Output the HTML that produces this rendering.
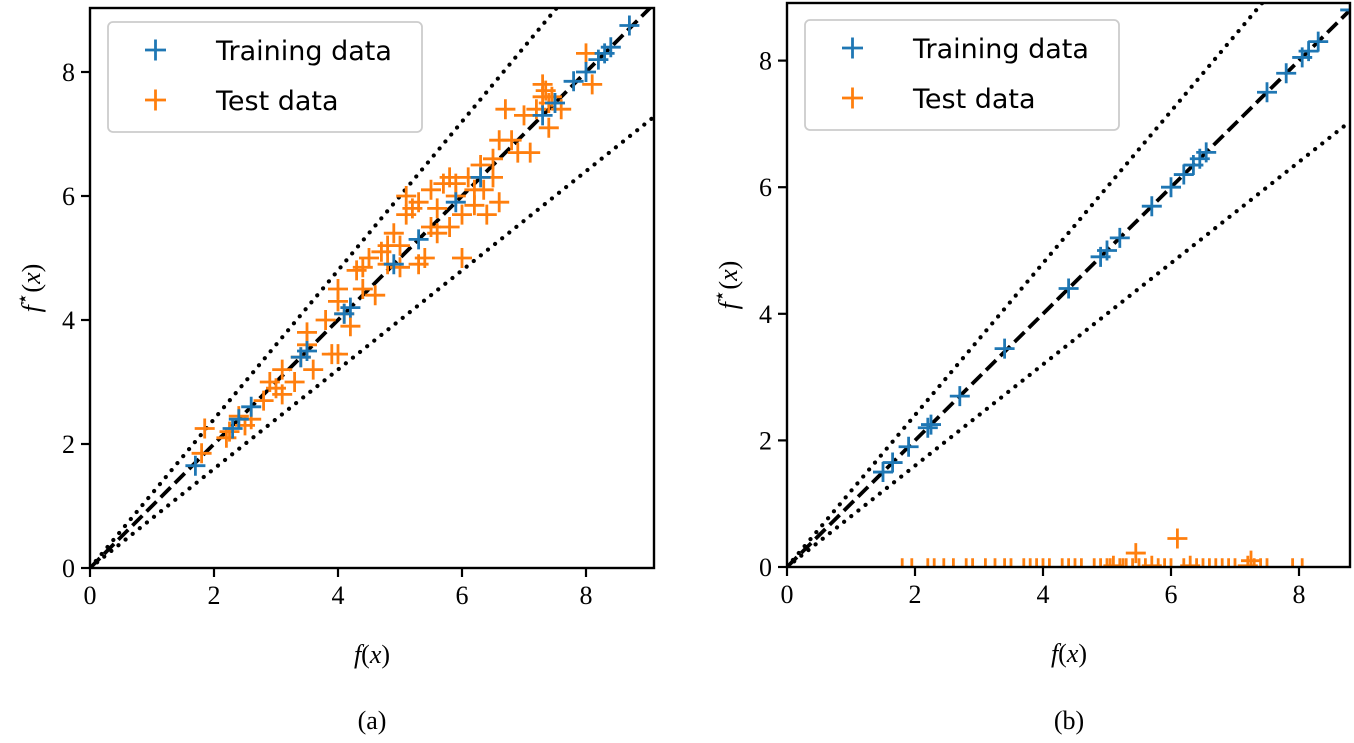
<!DOCTYPE html>
<html><head><meta charset="utf-8"><style>
body{margin:0;background:#fff}
svg{display:block}
.tk{font-family:"Liberation Serif",serif;font-size:26px}
.lg{font-family:"DejaVu Sans","Liberation Sans",sans-serif;font-size:27px}
</style></head><body>
<svg id="fig" width="1354" height="743" viewBox="0 0 1354 743">
<defs>
<clipPath id="ca"><rect x="90" y="8" width="564" height="560"/></clipPath>
<clipPath id="cb"><rect x="787" y="3" width="563" height="564"/></clipPath>
</defs>
</svg>
<script>
const trainA_x=[1.7,2.3,2.4,2.6,3.4,3.5,4.1,4.2,4.9,5.3,5.9,6.3,7.3,7.5,7.8,8.0,8.2,8.3,8.4,8.7];
const trainA_y=[1.65,2.25,2.4,2.6,3.4,3.5,4.1,4.2,4.9,5.3,5.9,6.3,7.3,7.5,7.85,8.0,8.2,8.3,8.4,8.75];
const testA_x=[1.85,1.8,2.2,2.25,2.4,2.5,2.6,2.8,2.9,3.0,3.1,3.1,3.3,3.4,3.5,3.6,3.5,3.9,4.0,3.8,4.0,4.1,4.0,4.2,4.3,4.4,4.6,4.5,4.7,4.8,4.8,4.9,5.0,5.1,5.0,5.2,5.1,5.3,5.3,5.4,5.5,5.6,5.7,5.6,5.8,5.9,6.0,6.0,6.1,6.2,6.3,6.35,6.4,6.5,6.6,6.6,6.7,6.8,6.9,7.0,7.1,7.2,7.3,7.3,7.35,7.4,7.45,7.4,7.6,8.0,8.1,6.2,5.9,5.5,4.4,6.5,5.8];
const testA_y=[2.25,1.85,2.1,2.2,2.45,2.3,2.4,2.7,3.0,2.9,3.2,2.8,3.0,3.4,3.6,3.2,3.8,3.45,3.45,4.0,4.3,4.1,4.5,3.9,4.8,4.85,4.4,5.0,5.1,5.2,4.9,5.4,5.2,5.7,4.85,5.8,6.0,5.9,4.9,5.0,6.1,5.8,6.2,5.4,6.3,6.0,5.0,5.7,6.3,5.85,6.5,6.1,5.7,6.6,6.9,5.9,7.4,6.9,6.7,7.3,6.7,7.4,7.8,7.6,7.7,7.5,7.6,7.1,7.4,8.3,7.8,6.1,6.2,5.5,4.5,6.3,5.5];
const trainB_x=[1.5,1.65,1.9,2.2,2.25,2.7,3.4,4.4,4.9,5.0,5.2,5.7,6.0,6.2,6.35,6.45,6.55,7.5,7.8,8.05,8.15,8.3,8.8];
const trainB_y=[1.5,1.65,1.9,2.2,2.25,2.7,3.45,4.4,4.9,5.0,5.2,5.7,6.0,6.2,6.35,6.45,6.55,7.5,7.8,8.05,8.15,8.3,8.8];
const testB_x=[1.8,1.95,2.2,2.3,2.45,2.6,2.8,2.9,3.1,3.25,3.4,3.5,3.7,3.8,3.9,4.0,4.1,4.3,4.4,4.5,4.6,4.8,4.9,5.0,5.05,5.1,5.2,5.25,5.3,5.4,5.45,5.5,5.6,5.7,5.8,5.9,6.0,6.1,6.2,6.3,6.4,6.5,6.6,6.7,6.8,6.9,7.0,7.2,7.25,7.3,7.4,7.5,7.9,8.05];
const testB_y=[-0.02,-0.02,-0.02,-0.02,-0.02,-0.02,-0.02,-0.02,-0.02,-0.02,-0.02,-0.02,-0.02,-0.02,-0.02,-0.02,-0.02,-0.02,-0.02,-0.02,-0.02,-0.02,-0.02,-0.02,-0.02,0.02,-0.02,-0.02,-0.02,-0.02,0.22,-0.02,-0.02,0.02,-0.02,-0.02,-0.02,0.45,-0.02,0.02,-0.02,-0.02,-0.02,-0.02,-0.02,-0.02,-0.02,0.02,0.1,-0.02,-0.02,-0.02,-0.02,-0.02];
const ticks=[0,2,4,6,8];
const upperSlope=1.2, lowerSlope=0.8;

const NS="http://www.w3.org/2000/svg";
const svg=document.getElementById('fig');
function mk(tag,at,parent){const e=document.createElementNS(NS,tag);for(const k in at)e.setAttribute(k,at[k]);(parent||svg).appendChild(e);return e;}

function panel(P){
  const sx=v=>P.x0+v*P.kx, sy=v=>P.y0-v*P.ky;
  const g=mk('g',{});
  
  
  const xmax=(P.right-P.x0)/P.kx;
  const pg=mk('g',{'clip-path':'url(#'+P.clip+')'},g);
  [[upperSlope,'upper-bound-line'],[lowerSlope,'lower-bound-line']].forEach(([s,n])=>{
    const l=mk('line',{x1:sx(0),y1:sy(0),x2:sx(xmax),y2:sy(xmax*s),stroke:'#000','stroke-width':4.2,'stroke-dasharray':'0.1 9','stroke-linecap':'round'},pg);
    
    
  });
  const d=mk('line',{x1:sx(0),y1:sy(0),x2:sx(xmax),y2:sy(xmax),stroke:'#000','stroke-width':3.8,'stroke-dasharray':'14 6'},pg);
  
  
  function plus(x,y,c,nm){
    const p=mk('path',{d:`M${sx(x)-10},${sy(y)}h20M${sx(x)},${sy(y)-10}v20`,stroke:c,'stroke-width':2.8,fill:'none'},pg);
    
    
  }
  P.testX.forEach((x,i)=>plus(x,P.testY[i],'#ff7f0e','test-point'));
  P.trainX.forEach((x,i)=>plus(x,P.trainY[i],'#1f77b4','training-point'));
  const f=mk('rect',{x:P.x0,y:P.top,width:P.right-P.x0,height:P.y0-P.top,fill:'none',stroke:'#000','stroke-width':2.4},g);
  
  
  ticks.forEach(t=>{
    mk('line',{x1:sx(t),x2:sx(t),y1:P.y0,y2:P.y0+9,stroke:'#000','stroke-width':2.2},g);
    const tx=mk('text',{x:sx(t),y:P.y0+36,'text-anchor':'middle',class:'tk'},g);tx.textContent=t;
    
    
    mk('line',{x1:P.x0-9,x2:P.x0,y1:sy(t),y2:sy(t),stroke:'#000','stroke-width':2.2},g);
    const ty=mk('text',{x:P.x0-15,y:sy(t)+9,'text-anchor':'end',class:'tk'},g);ty.textContent=t;
    
    
  });
  const xl=mk('text',{x:P.x0+282,y:P.y0+95,'text-anchor':'middle',class:'tk','font-size':'31'},g);
  xl.innerHTML='<tspan font-style="italic">f</tspan>(<tspan font-style="italic">x</tspan>)';
  
  
  const cy=(P.top+P.y0)/2;
  const yl=mk('text',{x:P.x0-50,y:cy,'text-anchor':'middle',class:'tk','font-size':'31',transform:`rotate(-90 ${P.x0-50} ${cy})`},g);
  yl.innerHTML='<tspan font-style="italic">f</tspan><tspan dy="-11" font-size="20">⋆</tspan><tspan dy="11">(</tspan><tspan font-style="italic">x</tspan>)';
  
  
  const cap=mk('text',{x:P.x0+282,y:729,'text-anchor':'middle',class:'tk','font-size':'33'},g);cap.textContent=P.cap;
  
  
  const lg=mk('g',{},g);
  
  
  mk('rect',{x:P.lx,y:P.ly,width:314,height:110,rx:5,fill:'#fff','fill-opacity':0.85,stroke:'#ccc','stroke-width':1.8},lg);
  [['#1f77b4','Training data',0],['#ff7f0e','Test data',50]].forEach(([c,t,o])=>{
    const yy=P.ly+28+o;
    mk('path',{d:`M${P.lx+37},${yy}h21M${P.lx+47.5},${yy-10.5}v21`,stroke:c,'stroke-width':2.8},lg);
    const tt=mk('text',{x:P.lx+108,y:yy+10,class:'lg'},lg);tt.textContent=t;
    
    
  });
}
panel({name:'panel-a',x0:90,y0:568,kx:62,ky:62,right:654,top:8,clip:'ca',cap:'(a)',lx:108,ly:22,
  trainX:trainA_x,trainY:trainA_y,testX:testA_x,testY:testA_y});
panel({name:'panel-b',x0:787,y0:567,kx:64,ky:63.3,right:1350,top:3,clip:'cb',cap:'(b)',lx:805,ly:20,
  trainX:trainB_x,trainY:trainB_y,testX:testB_x,testY:testB_y});
</script>
</body></html>
